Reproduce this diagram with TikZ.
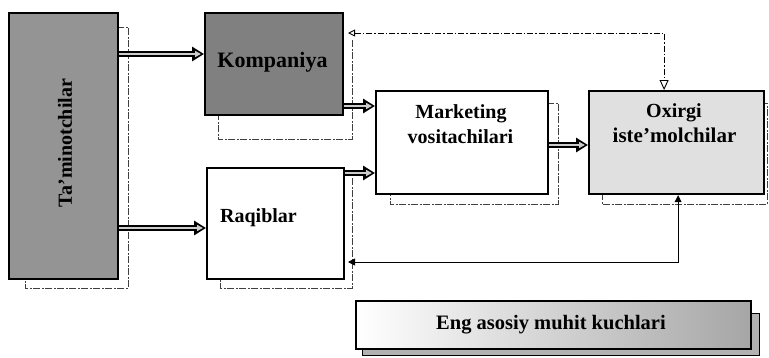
\documentclass[tikz,border=0pt]{standalone}
\usepackage{fontspec}
\setmainfont{Liberation Serif}
\usetikzlibrary{arrows.meta,calc}

\begin{document}
\begin{tikzpicture}[x=1pt,y=-1pt,
  box/.style={draw, line width=2.2pt, anchor=north west, inner sep=0pt},
  lbl/.style={font=\fontsize{20}{24}\selectfont\bfseries, inner sep=0pt, anchor=base},
  shadowline/.style={draw=black!75, line width=0.9pt,
    dash pattern=on 7pt off 1.5pt on 2pt off 1.5pt},
  flow/.style={line width=6pt, -{Triangle[length=12pt,width=14pt]},
    postaction={draw=black!20, line width=2pt,
      -{Triangle[length=6pt,width=6pt,color=black!20]}, shorten >=3pt}},
  feed/.style={line width=0.9pt}
]
\useasboundingbox (0,0) rectangle (769,357);

% offset outlines behind the boxes
\draw[shadowline] (117,27) -- (128,27) -- (128,288) -- (25,288) -- (25,278);
\draw[shadowline] (352,40) -- (352,139) -- (218,139) -- (218,114);
\draw[shadowline] (352,178) -- (352,288) -- (220,288) -- (220,278);
\draw[shadowline] (547,103) -- (558,103) -- (558,204) -- (390,204) -- (390,193);
\draw[shadowline] (602,193) -- (602,204) -- (767,204) -- (767,103) -- (763,103);
\filldraw[fill=black!30, draw=black, line width=1pt]
  (750,313) -- (759,313) -- (759,355) -- (362,355) -- (362,348) -- (750,348) -- cycle;

% boxes
\node[box, fill=black!42, minimum width=109pt, minimum height=266pt] (tam) at (8,12) {};
\node[box, fill=black!50, minimum width=138pt, minimum height=102pt] (komp) at (204,12) {};
\node[box, fill=white, minimum width=137pt, minimum height=111pt] (raq) at (206,167) {};
\node[box, fill=white, minimum width=172pt, minimum height=103pt] (mark) at (375,90) {};
\node[box, fill=black!12, minimum width=175pt, minimum height=103pt] (oxi) at (588,90) {};
\node[box, left color=white, middle color=black!6, right color=black!35,
      minimum width=395pt, minimum height=48pt] (eng) at (355,300) {};

% main flows
\draw[flow] (tam.east |- 0,54) -- (komp.west |- 0,54);
\draw[flow] (tam.east |- 0,228) -- (raq.west |- 0,228);
\draw[flow] (komp.east |- 0,106) -- (mark.west |- 0,106);
\draw[flow] (raq.east |- 0,173) -- (mark.west |- 0,173);
\draw[flow] (mark.east |- 0,145) -- (oxi.west |- 0,145);

% feedback links
\coordinate (kfb) at (348,33);
\coordinate (rfb) at (348,262);
\draw[feed, dash pattern=on 6pt off 2pt on 1.5pt off 2pt,
  {Triangle[open,length=7pt,width=7pt]}-{Triangle[open,length=10pt,width=9pt]}]
  (kfb) -| ([xshift=-12.5pt]oxi.north);
\draw[feed, {Triangle[length=7pt,width=7pt]}-{Triangle[length=7pt,width=7pt]}]
  ([xshift=1.5pt]oxi.south) |- (rfb);

% labels
\node[lbl, rotate=90, anchor=center] (tamt) at (65,143) {Ta’minotchilar};
\node[lbl, font=\fontsize{22}{26}\selectfont\bfseries] (kompt) at (272.5,67) {Kompaniya};
\node[lbl] (raqt) at (258.5,222) {Raqiblar};
\node[lbl] (markt1) at (461,118) {Marketing};
\node[lbl] (markt2) at (460.5,143) {vositachilari};
\node[lbl] (oxit1) at (674,117) {Oxirgi};
\node[lbl, font=\fontsize{21}{25}\selectfont\bfseries] (oxit2) at (674.5,142) {iste’molchilar};
\node[lbl, font=\fontsize{20.5}{25}\selectfont\bfseries] (engt) at (551,329) {Eng asosiy muhit kuchlari};
\end{tikzpicture}
\end{document}
